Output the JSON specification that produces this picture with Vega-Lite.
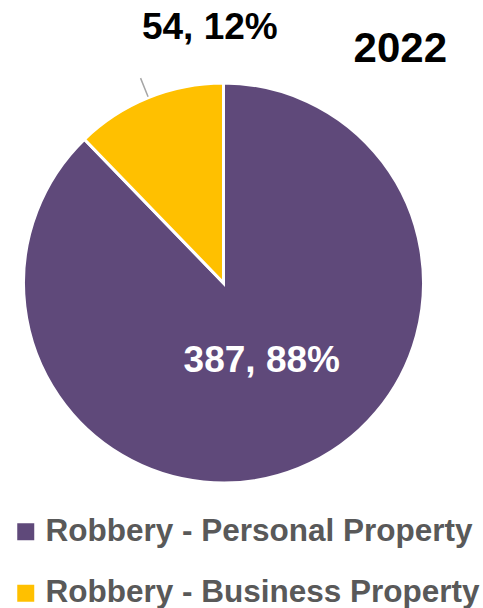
{
  "$schema": "https://vega.github.io/schema/vega-lite/v6.json",
  "width": 447,
  "height": 566,
  "autosize": {"type": "none"},
  "padding": {"left": 0, "top": 0, "right": 36, "bottom": 42},
  "background": "white",
  "title": {
    "text": "2022",
    "anchor": "end",
    "frame": "group",
    "fontSize": 42,
    "font": "Liberation Sans",
    "fontWeight": "bold",
    "color": "black",
    "baseline": "alphabetic",
    "offset": 0,
    "dy": 104
  },
  "config": {"view": {"stroke": null}},
  "data": {
    "values": [
      {"category": "Robbery - Personal Property", "count": 387, "label": "387, 88%", "order": 1},
      {"category": "Robbery - Business Property", "count": 54, "label": "54, 12%", "order": 2}
    ]
  },
  "encoding": {
    "theta": {"field": "count", "type": "quantitative", "stack": true},
    "order": {"field": "order", "type": "quantitative"}
  },
  "layer": [
    {
      "mark": {"type": "arc", "outerRadius": 200, "stroke": "white", "strokeWidth": 3},
      "encoding": {
        "color": {
          "field": "category",
          "type": "nominal",
          "scale": {
            "domain": ["Robbery - Personal Property", "Robbery - Business Property"],
            "range": ["#5F497A", "#FFC000"]
          },
          "legend": {
            "title": null,
            "orient": "none",
            "legendX": 10,
            "legendY": 516,
            "padding": 0,
            "symbolType": "square",
            "symbolSize": 289,
            "symbolStrokeWidth": 0,
            "labelFont": "Liberation Sans",
            "labelFontSize": 31.5,
            "labelFontWeight": "bold",
            "labelColor": "#595959",
            "labelLimit": 600,
            "labelOffset": 4,
            "rowPadding": 28.5
          }
        }
      }
    },
    {
      "mark": {"type": "arc", "innerRadius": 201, "outerRadius": 221, "padAngle": 1.2, "fill": null, "stroke": "#A6A6A6", "strokeWidth": 1.5},
      "encoding": {
        "strokeOpacity": {"condition": {"test": "datum.order == 2", "value": 1}, "value": 0}
      }
    },
    {
      "mark": {"type": "text", "radius": 86, "dx": 6, "dy": -2, "font": "Liberation Sans", "fontSize": 37, "fontWeight": "bold", "color": "white"},
      "encoding": {
        "text": {"condition": {"test": "datum.order == 1", "field": "label"}, "value": ""}
      }
    },
    {
      "mark": {"type": "text", "radius": 255, "dx": 82, "dy": -19, "font": "Liberation Sans", "fontSize": 37, "fontWeight": "bold", "color": "black"},
      "encoding": {
        "text": {"condition": {"test": "datum.order == 2", "field": "label"}, "value": ""}
      }
    }
  ]
}
